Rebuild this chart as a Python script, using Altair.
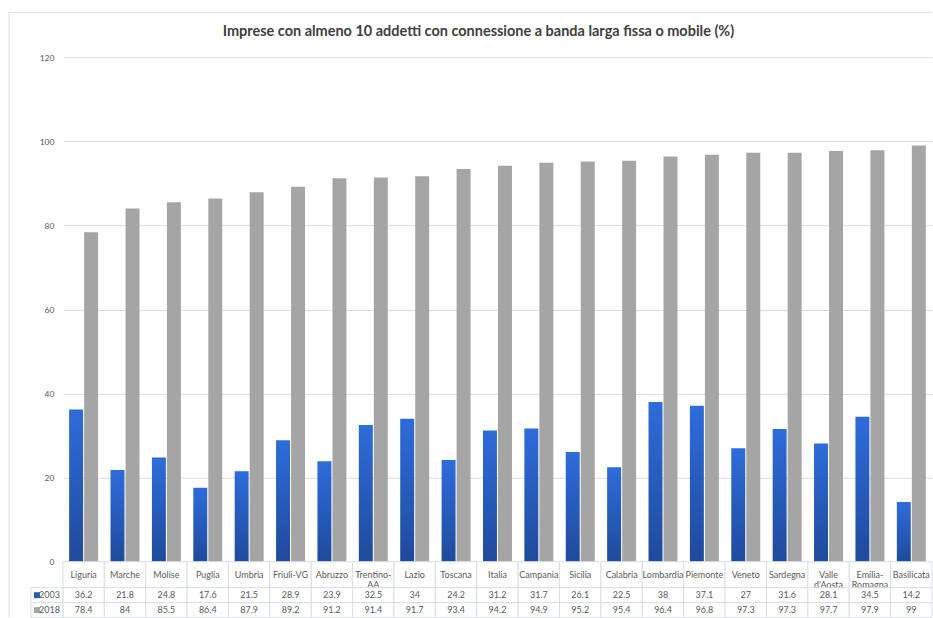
import altair as alt
import pandas as pd

categories = ["Liguria", "Marche", "Molise", "Puglia", "Umbria", "Friuli-VG", "Abruzzo",
              "Trentino-AA", "Lazio", "Toscana", "Italia", "Campania", "Sicilia", "Calabria",
              "Lombardia", "Piemonte", "Veneto", "Sardegna", "Valle d'Aosta", "Emilia-Romagna",
              "Basilicata"]
values_2003 = [36.2, 21.8, 24.8, 17.6, 21.5, 28.9, 23.9, 32.5, 34, 24.2, 31.2, 31.7, 26.1,
               22.5, 38, 37.1, 27, 31.6, 28.1, 34.5, 14.2]
values_2018 = [78.4, 84, 85.5, 86.4, 87.9, 89.2, 91.2, 91.4, 91.7, 93.4, 94.2, 94.9, 95.2,
               95.4, 96.4, 96.8, 97.3, 97.3, 97.7, 97.9, 99]
series = ["2003", "2018"]
y_ticks = [0, 20, 40, 60, 80, 100, 120]
title_text = "Imprese con almeno 10 addetti con connessione a banda larga fissa o mobile (%)"
wrapped = {"Trentino-AA": "Trentino-\nAA", "Valle d'Aosta": "Valle\nd'Aosta",
           "Emilia-Romagna": "Emilia-\nRomagna"}

rows = []
for c, a, b in zip(categories, values_2003, values_2018):
    rows.append({"category": c, "series": "2003", "value": a, "label": f"{a:g}"})
    rows.append({"category": c, "series": "2018", "value": b, "label": f"{b:g}"})
df = pd.DataFrame(rows)
hdr = pd.DataFrame({"category": categories, "header": [wrapped.get(c, c) for c in categories]})
leg = pd.DataFrame({"series": series})
one = pd.DataFrame({"t": [title_text]})

W = 870
FONT = "Lato"
TXT = "#595959"
LINE = "#d9dee6"
GRAY = "#a5a5a5"
BLUE_SQ = "#2c5bb5"

xb = alt.X("category:N", sort=categories,
           scale=alt.Scale(domain=categories, paddingInner=0.3, paddingOuter=0.15), axis=None)
xo = alt.XOffset("series:N", scale=alt.Scale(domain=series, paddingInner=0.07))
yq = alt.Y("value:Q", scale=alt.Scale(domain=[0, 120], nice=False),
           axis=alt.Axis(values=y_ticks, title=None, ticks=False, domain=False, labelPadding=9,
                         labelFont=FONT, labelFontSize=8.5, labelColor=TXT,
                         gridColor=LINE, gridWidth=1))

blue_grad = alt.Gradient(gradient="linear",
                         stops=[alt.GradientStop(color="#1f4a9c", offset=0),
                                alt.GradientStop(color="#2e6cda", offset=1)],
                         x1=0, x2=0, y1=1, y2=0)

b03 = alt.Chart(df).transform_filter(alt.datum.series == "2003").mark_bar(
    color=blue_grad).encode(x=xb, xOffset=xo, y=yq)
b18 = alt.Chart(df).transform_filter(alt.datum.series == "2018").mark_bar(
    color=GRAY).encode(x=xb, xOffset=xo, y=yq)

frame_top = alt.Chart(one).mark_rule(color=LINE, strokeWidth=1).encode(
    x=alt.value(-54), x2=alt.value(W), y=alt.value(-45))
frame_left = alt.Chart(one).mark_rule(color=LINE, strokeWidth=1).encode(
    x=alt.value(-54), y=alt.value(-45), y2=alt.value(561))
title_mark = alt.Chart(one).mark_text(font=FONT, fontSize=14.5, fontWeight="bold",
                                      color="#404040").encode(
    x=alt.value(416), y=alt.value(-25), text="t:N")

bars = alt.layer(frame_top, frame_left, b03, b18, title_mark).properties(width=W, height=505)

xc = alt.X("category:N", sort=categories,
           scale=alt.Scale(domain=categories, paddingInner=0, paddingOuter=0), axis=None)
hcell = alt.Chart(hdr).mark_rect(fill="white", stroke=LINE, strokeWidth=1).encode(
    x=xc, y=alt.value(0), y2=alt.value(26))
htext = alt.Chart(hdr).mark_text(font=FONT, fontSize=9, color=TXT, lineBreak="\n",
                                 lineHeight=10, baseline="middle").encode(
    x=xc, y=alt.value(13), text="header:N")
header = alt.layer(hcell, htext).properties(width=W, height=26)

yc = alt.Y("series:N", sort=series,
           scale=alt.Scale(domain=series, paddingInner=0, paddingOuter=0), axis=None)
vcell = alt.Chart(df).mark_rect(fill="white", stroke=LINE, strokeWidth=1).encode(x=xc, y=yc)
vtext = alt.Chart(df).mark_text(font=FONT, fontSize=9, color=TXT).encode(
    x=xc, y=yc, text="label:N")
lcell = alt.Chart(leg).mark_rect(fill="white", stroke=LINE, strokeWidth=1).encode(
    x=alt.value(-32), x2=alt.value(0), y=yc)
lsq = alt.Chart(leg).mark_square(size=36, opacity=1).encode(
    x=alt.value(-26), y=yc,
    color=alt.Color("series:N", scale=alt.Scale(domain=series, range=[BLUE_SQ, GRAY]),
                    legend=None))
ltxt = alt.Chart(leg).mark_text(font=FONT, fontSize=9, color=TXT, align="right").encode(
    x=alt.value(-3), y=yc, text="series:N")
values = alt.layer(vcell, vtext, lcell, lsq, ltxt).properties(width=W, height=30)

chart = alt.vconcat(bars, header, values, spacing=0, bounds="flush").resolve_scale(
    x="independent", y="independent", color="independent"
).properties(
    padding={"left": 8, "top": 11, "right": 0, "bottom": 0},
    background="white"
).configure_view(stroke=None)

chart.save("out.html", embed_options={"renderer": "svg", "actions": False})
